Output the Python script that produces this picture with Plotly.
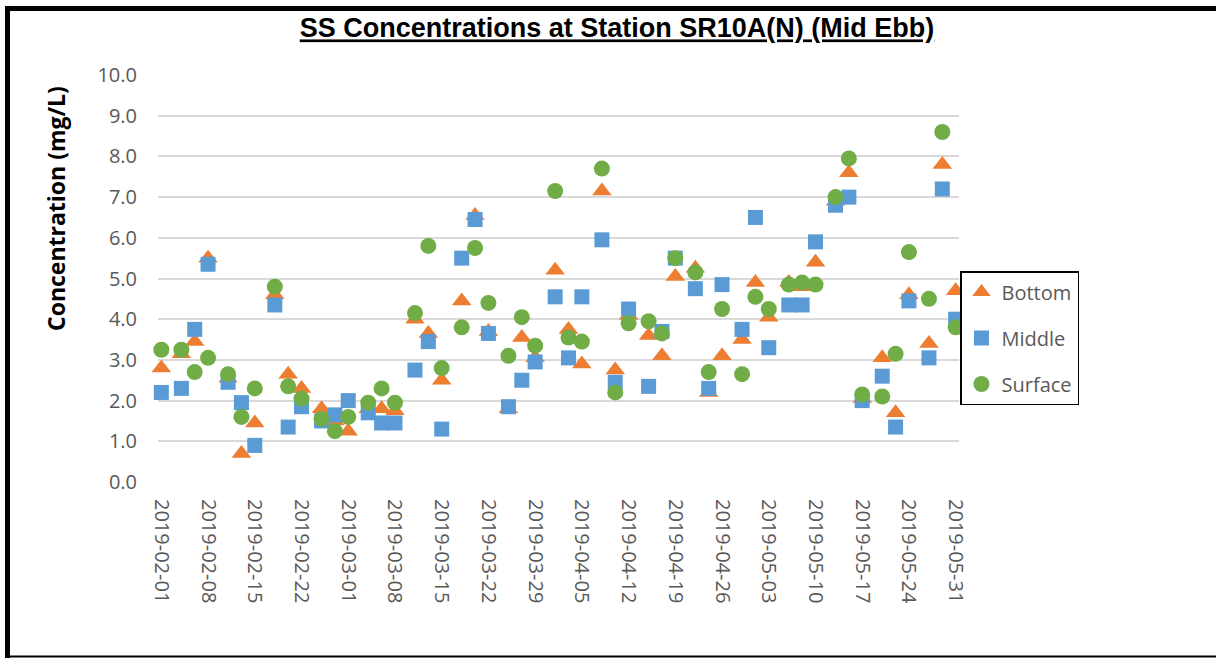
import plotly.graph_objects as go

# Sampling dates (Mon / Wed / Fri)
dates = [
    "2019-02-01", "2019-02-04", "2019-02-06", "2019-02-08", "2019-02-11", "2019-02-13",
    "2019-02-15", "2019-02-18", "2019-02-20", "2019-02-22", "2019-02-25", "2019-02-27",
    "2019-03-01", "2019-03-04", "2019-03-06", "2019-03-08", "2019-03-11", "2019-03-13",
    "2019-03-15", "2019-03-18", "2019-03-20", "2019-03-22", "2019-03-25", "2019-03-27",
    "2019-03-29", "2019-04-01", "2019-04-03", "2019-04-05", "2019-04-08", "2019-04-10",
    "2019-04-12", "2019-04-15", "2019-04-17", "2019-04-19", "2019-04-22", "2019-04-24",
    "2019-04-26", "2019-04-29", "2019-05-01", "2019-05-03", "2019-05-06", "2019-05-08",
    "2019-05-10", "2019-05-13", "2019-05-15", "2019-05-17", "2019-05-20", "2019-05-22",
    "2019-05-24", "2019-05-27", "2019-05-29", "2019-05-31",
]

# SS concentration (mg/L) by sampling depth
bottom = [
    2.8, 3.15, 3.45, 5.5, 2.55, 0.7, 1.45, 4.6, 2.65, 2.3, 1.8, 1.5,
    1.25, 1.8, 1.8, 1.75, 4.0, 3.65, 2.5, 4.45, 6.55, 3.7, 1.8, 3.55,
    3.05, 5.2, 3.75, 2.9, 7.15, 2.75, 4.1, 3.6, 3.1, 5.05, 5.25, 2.2,
    3.1, 3.5, 4.9, 4.05, 4.9, 4.8, 5.4, 6.9, 7.6, 2.05, 3.05, 1.7,
    4.6, 3.4, 7.8, 4.7,
]
middle = [
    2.2, 2.3, 3.75, 5.35, 2.45, 1.95, 0.9, 4.35, 1.35, 1.85, 1.5, 1.65,
    2.0, 1.7, 1.45, 1.45, 2.75, 3.45, 1.3, 5.5, 6.45, 3.65, 1.85, 2.5,
    2.95, 4.55, 3.05, 4.55, 5.95, 2.45, 4.25, 2.35, 3.7, 5.5, 4.75, 2.3,
    4.85, 3.75, 6.5, 3.3, 4.35, 4.35, 5.9, 6.8, 7.0, 2.0, 2.6, 1.35,
    4.45, 3.05, 7.2, 4.0,
]
surface = [
    3.25, 3.25, 2.7, 3.05, 2.65, 1.6, 2.3, 4.8, 2.35, 2.05, 1.55, 1.25,
    1.6, 1.95, 2.3, 1.95, 4.15, 5.8, 2.8, 3.8, 5.75, 4.4, 3.1, 4.05,
    3.35, 7.15, 3.55, 3.45, 7.7, 2.2, 3.9, 3.95, 3.65, 5.5, 5.15, 2.7,
    4.25, 2.65, 4.55, 4.25, 4.85, 4.9, 4.85, 7.0, 7.95, 2.15, 2.1, 3.15,
    5.65, 4.5, 8.6, 3.8,
]

series = [
    ("Bottom", bottom, "triangle-up", "#ED7D31", 17),
    ("Middle", middle, "square", "#5B9BD5", 15),
    ("Surface", surface, "circle", "#70AD47", 16),
]

GREY = "#595959"
BODY_FONT = "Open Sans"

fig = go.Figure()
for i, (name, vals, sym, col, sz) in enumerate(series):
    fig.add_trace(go.Scatter(
        x=dates, y=vals, name=name, mode="markers",
        marker=dict(symbol=sym, color=col, size=sz, line=dict(width=0)),
        cliponaxis=False, legendgroup=f"g{i}",
    ))

W, H = 1216, 658
ML, MR, MT, MB = 158, 257, 75, 176
PW, PH = W - ML - MR, H - MT - MB


def px_x(px):
    return (px - ML) / PW


def px_y(py):
    return (H - MB - py) / PH


# outer frame of the chart area
frame = [
    dict(x0=px_x(5), x1=px_x(1216), y0=px_y(8.5), y1=px_y(8.5), w=5),
    dict(x0=px_x(7.5), x1=px_x(7.5), y0=px_y(6), y1=px_y(658), w=5),
    dict(x0=px_x(5), x1=px_x(1216), y0=px_y(656.5), y1=px_y(656.5), w=2),
]
shapes = [
    dict(type="line", xref="paper", yref="paper", x0=f["x0"], x1=f["x1"],
         y0=f["y0"], y1=f["y1"], line=dict(color="black", width=f["w"]))
    for f in frame
]

fig.update_layout(
    width=W, height=H,
    margin=dict(l=ML, r=MR, t=MT, b=MB, autoexpand=False),
    paper_bgcolor="white", plot_bgcolor="white",
    title=dict(
        text="<b><u>SS Concentrations at Station SR10A(N) (Mid Ebb)</u></b>",
        x=617 / W, xanchor="center", xref="container",
        y=1 - 28 / H, yanchor="middle", yref="container",
        font=dict(family="Liberation Sans, Arial", size=27, color="black"),
    ),
    xaxis=dict(
        type="date",
        range=["2019-01-31 12:00", "2019-05-31 12:00"],
        tick0="2019-02-01", dtick=7 * 24 * 3600 * 1000,
        tickformat="%Y-%m-%d", tickangle=90,
        tickfont=dict(family=BODY_FONT, size=20, color=GREY),
        showgrid=False, zeroline=False, showline=False,
        ticks="", ticklabelstandoff=16,
    ),
    yaxis=dict(
        range=[0, 10], dtick=1, tickformat=".1f",
        tickfont=dict(family=BODY_FONT, size=20, color=GREY),
        showgrid=True, gridcolor="#D9D9D9", gridwidth=1.5,
        zeroline=False, showline=False, ticks="", ticklabelstandoff=20,
    ),
    legend=dict(
        x=px_x(960), xanchor="left", y=px_y(271), yanchor="top",
        bordercolor="black", borderwidth=1.5, bgcolor="white",
        font=dict(family=BODY_FONT, size=20, color=GREY),
        tracegroupgap=17, itemsizing="trace",
    ),
    annotations=[
        dict(text="<b>Concentration (mg/L)</b>", textangle=-90,
             xref="paper", yref="paper", x=px_x(56), y=px_y(209),
             xanchor="center", yanchor="middle", showarrow=False,
             font=dict(family=BODY_FONT, size=23, color="black")),
    ],
    shapes=shapes,
    showlegend=True,
)

fig.write_html("out.html")
